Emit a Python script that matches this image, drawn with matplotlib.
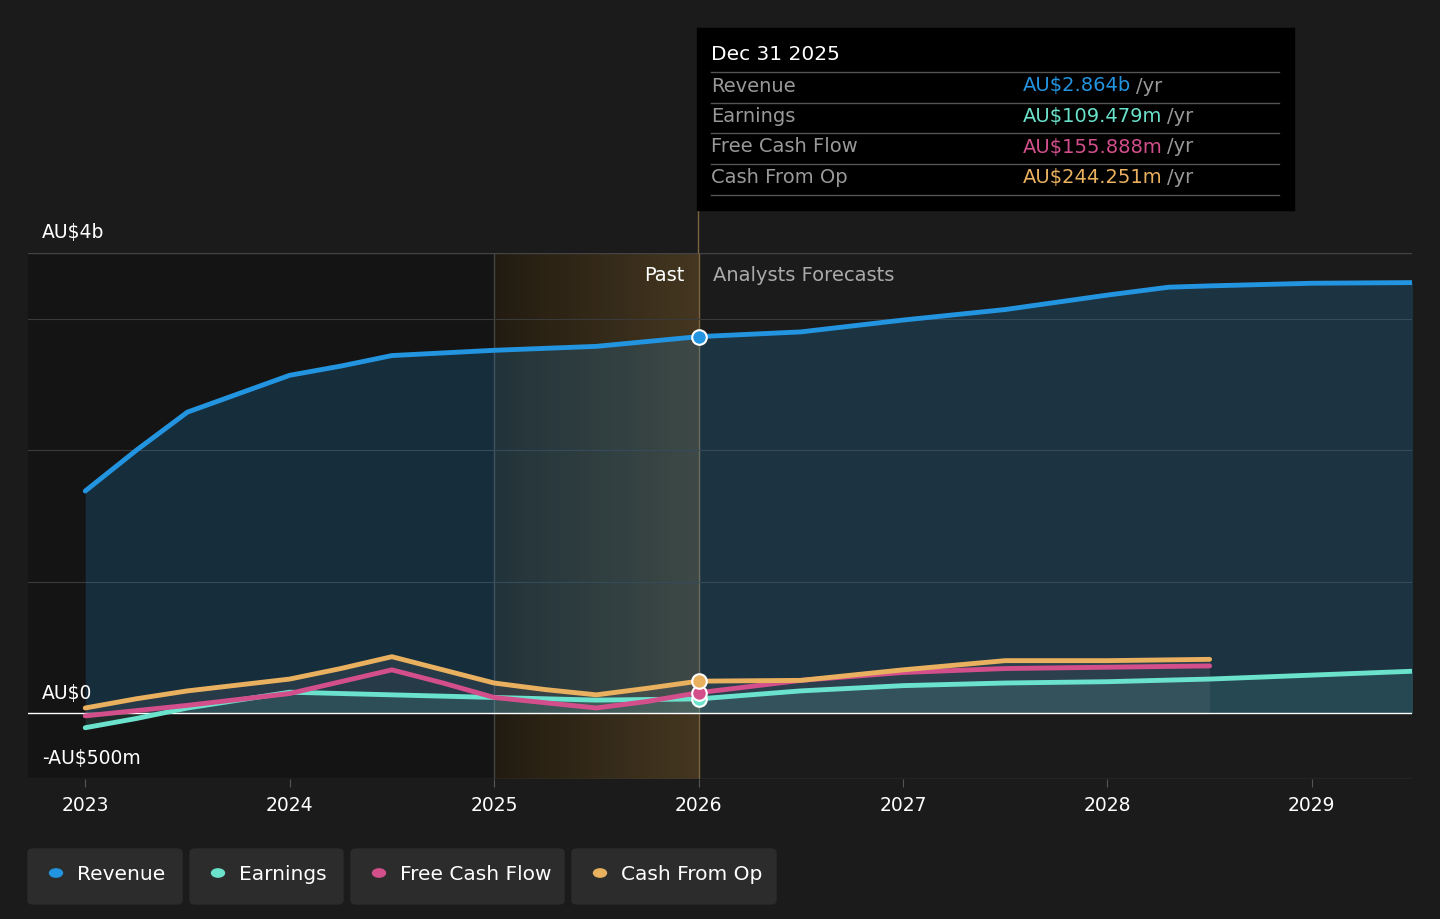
import numpy as np
import matplotlib.pyplot as plt
from matplotlib.patches import FancyBboxPatch, Rectangle
from matplotlib.colors import LinearSegmentedColormap

# data (AU$ billions)
rev_x = [2023.0, 2023.25, 2023.5, 2023.75, 2024.0, 2024.25, 2024.5, 2024.75, 2025.0, 2025.5, 2026.0,
         2026.5, 2027.0, 2027.5, 2028.0, 2028.3, 2028.5, 2029.0, 2029.5]
rev_y = [1.69, 2.0, 2.29, 2.43, 2.57, 2.64, 2.72, 2.74, 2.76, 2.79, 2.864,
         2.90, 2.99, 3.07, 3.18, 3.24, 3.25, 3.27, 3.275]
earn_x = [2023.0, 2023.25, 2023.5, 2024.0, 2024.5, 2025.0, 2025.5, 2026.0, 2026.5, 2027.0, 2027.5, 2028.0, 2028.5, 2029.0, 2029.5]
earn_y = [-0.11, -0.04, 0.04, 0.16, 0.14, 0.12, 0.10, 0.109, 0.17, 0.21, 0.23, 0.24, 0.26, 0.29, 0.32]
fcf_x = [2023.0, 2023.5, 2024.0, 2024.25, 2024.5, 2024.75, 2025.0, 2025.25, 2025.5, 2025.75, 2026.0, 2026.5, 2027.0, 2027.5, 2028.0, 2028.5]
fcf_y = [-0.02, 0.06, 0.15, 0.24, 0.33, 0.23, 0.12, 0.08, 0.04, 0.09, 0.156, 0.25, 0.31, 0.34, 0.35, 0.36]
cfo_x = [2023.0, 2023.25, 2023.5, 2024.0, 2024.25, 2024.5, 2024.75, 2025.0, 2025.25, 2025.5, 2025.75, 2026.0, 2026.5, 2027.0, 2027.5, 2028.0, 2028.5]
cfo_y = [0.04, 0.11, 0.17, 0.26, 0.34, 0.43, 0.33, 0.23, 0.18, 0.14, 0.19, 0.244, 0.25, 0.33, 0.40, 0.40, 0.41]

years = [2023, 2024, 2025, 2026, 2027, 2028, 2029]
C_REV, C_EARN, C_FCF, C_CFO = '#2394df', '#6be2cc', '#d34f8c', '#e9b15f'
BG = '#1b1b1b'

plt.rcParams['font.family'] = ['DejaVu Sans']
fig = plt.figure(figsize=(14.4, 9.19), dpi=100, facecolor=BG)
ax = fig.add_axes([28/1440, 1-779/919, (1412-28)/1440, (779-253)/919])
ax.set_facecolor(BG)
x0, x1 = 2022.72, 2029.49
ax.set_xlim(x0, x1)
ax.set_ylim(-0.5, 3.5)

# past shading
ax.add_patch(Rectangle((x0, -0.5), 2025 - x0, 4.0, color='#141414', zorder=0))
grad = np.linspace(0, 1, 256).reshape(1, -1)
cmap = LinearSegmentedColormap.from_list('g', ['#241c10', '#4a3b22'])
ax.imshow(grad, extent=[2025, 2026, -0.5, 3.5], aspect='auto', cmap=cmap, zorder=0.5, alpha=0.9)
ax.axvline(2025, color='#444444', lw=1, zorder=1)
ax.axvline(2026, color='#7a6540', lw=1, zorder=1)
fig.lines.append(plt.Line2D([698/1440]*2, [1-253/919, 1-210/919], color='#7a6540', lw=1,
                            transform=fig.transFigure))

for g in [1, 2, 3]:
    ax.axhline(g, color='#3a3a3a', lw=0.8, zorder=1)
ax.axhline(3.5, color='#444444', lw=1, zorder=1)
ax.axhline(-0.5, color='#444444', lw=1, zorder=1)
ax.axhline(0, color='white', lw=1, zorder=3)

ax.fill_between(rev_x, 0, rev_y, color=C_REV, alpha=0.2, lw=0, zorder=2)
ax.fill_between(cfo_x, 0, cfo_y, color='#888888', alpha=0.15, lw=0, zorder=2)
ax.fill_between(earn_x, 0, earn_y, color=C_EARN, alpha=0.12, lw=0, zorder=2)

for xs, ys, c in [(rev_x, rev_y, C_REV), (earn_x, earn_y, C_EARN), (fcf_x, fcf_y, C_FCF), (cfo_x, cfo_y, C_CFO)]:
    ax.plot(xs, ys, color=c, lw=3.5, zorder=4, solid_capstyle='round', solid_joinstyle='round')
    i = xs.index(2026.0)
    ax.scatter([2026], [ys[i]], s=110, color=c, edgecolor='white', lw=1.5, zorder=6)

for s in ax.spines.values():
    s.set_visible(False)
ax.set_yticks([])
ax.set_xticks(years)
ax.set_xticklabels([str(y) for y in years], color='white', fontsize=13.5)
ax.tick_params(axis='x', length=6, color='#555555', pad=6)

ax.text(2022.79, 3.58, 'AU$4b', color='white', fontsize=13.5, va='bottom')
ax.text(2022.79, 0.08, 'AU$0', color='white', fontsize=13.5, va='bottom')
ax.text(2022.79, -0.42, '-AU$500m', color='white', fontsize=13.5, va='bottom')
ax.text(2025.93, 3.33, 'Past', color='white', fontsize=14, ha='right', va='center')
ax.text(2026.07, 3.33, 'Analysts Forecasts', color='#aaaaaa', fontsize=14, ha='left', va='center')

# tooltip
fig.patches.append(Rectangle((697/1440, 1-210/919), 597/1440, 182/919, transform=fig.transFigure,
                             color='black', zorder=10))
fig.text(711/1440, 1-55/919, 'Dec 31 2025', color='white', fontsize=14.5, va='center', zorder=11)
rows = [('Revenue', 'AU$2.864b', C_REV), ('Earnings', 'AU$109.479m', C_EARN),
        ('Free Cash Flow', 'AU$155.888m', C_FCF), ('Cash From Op', 'AU$244.251m', C_CFO)]
for k, (lab, val, c) in enumerate(rows):
    yy = 86 + 30.5 * k
    fig.text(711/1440, 1-yy/919, lab, color='#999999', fontsize=14, va='center', zorder=11)
    t = fig.text(1023/1440, 1-yy/919, val, color=c, fontsize=14, va='center', zorder=11)
    fig.canvas.draw()
    bb = t.get_window_extent()
    fig.text(bb.x1/1440 + 0.003, 1-yy/919, '/yr', color='#999999', fontsize=14, va='center', zorder=11)
    ly = 72 + 30.5 * k
    fig.lines.append(plt.Line2D([711/1440, 1279/1440], [1-ly/919]*2, color='#555555', lw=1,
                                transform=fig.transFigure, zorder=11))
fig.lines.append(plt.Line2D([711/1440, 1279/1440], [1-195/919]*2, color='#555555', lw=1,
                            transform=fig.transFigure, zorder=11))

# legend buttons
legend = [('Revenue', C_REV, 28, 182), ('Earnings', C_EARN, 190, 343),
          ('Free Cash Flow', C_FCF, 351, 564), ('Cash From Op', C_CFO, 572, 776)]
for lab, c, l, r in legend:
    fig.patches.append(FancyBboxPatch((l/1440, 1-904/919), (r-l)/1440, 55/919,
                                      boxstyle='round,pad=0,rounding_size=0.004',
                                      transform=fig.transFigure, color='#2c2c2c'))
    fig.patches.append(plt.Circle(((l+28)/1440, 1-873/919), 0.0045, transform=fig.transFigure, color=c))
    fig.text((l+49)/1440, 1-874/919, lab, color='white', fontsize=14.5, va='center')

fig.savefig('out.png', dpi=100, facecolor=BG)
